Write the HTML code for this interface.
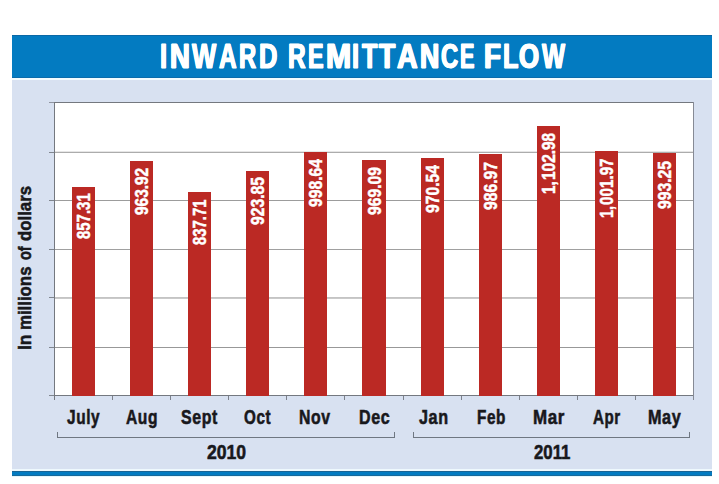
<!DOCTYPE html>
<html>
<head>
<meta charset="utf-8">
<title>Inward Remittance Flow</title>
<style>
html,body{margin:0;padding:0;}
body{width:719px;height:484px;background:#fff;position:relative;overflow:hidden;font-family:"Liberation Sans",sans-serif;font-weight:bold;}
div{position:absolute;}
.t{white-space:nowrap;transform-origin:0 0;}
.h{color:#fff;font-size:37px;line-height:44px;-webkit-text-stroke:0.90px #fff;text-shadow:0.90px 0 0 #fff,-0.90px 0 0 #fff;}
.l{color:#18181c;font-size:21px;line-height:24px;-webkit-text-stroke:0.60px #18181c;}
.v{color:#fff;font-size:19px;line-height:20px;-webkit-text-stroke:0.50px #fff;}
.b{background:#bb2924;}
</style>
</head>
<body>
<div style="left:12px;top:35px;width:700px;height:43px;background:#037bc1;"></div>
<div style="left:12px;top:35px;width:700px;height:1px;background:#0a68a6;"></div>
<div style="left:12px;top:78px;width:700px;height:2px;background:#f2fcff;"></div>
<div style="left:12px;top:80px;width:700px;height:389px;background:#d8e1f1;"></div>
<div style="left:12px;top:469px;width:700px;height:2px;background:#eef8fd;"></div>
<div style="left:12px;top:471px;width:700px;height:5px;background:#037bc1;"></div>
<div style="left:12px;top:471px;width:700px;height:1px;background:#1a6494;"></div>
<div style="left:12px;top:475px;width:700px;height:1px;background:#186a9c;"></div>
<div style="left:12px;top:476px;width:700px;height:1px;background:#e4f6fc;"></div>
<div style="left:12px;top:77px;width:700px;height:1px;background:#0a6cab;"></div>
<div class="t h" style="left:159.91px;top:36.02px;transform:scale(0.6875,0.9393);">I</div>
<div class="t h" style="left:170.36px;top:36.02px;transform:scale(0.7417,0.9393);">N</div>
<div class="t h" style="left:192.39px;top:36.02px;transform:scale(0.6919,0.9393);">W</div>
<div class="t h" style="left:218.90px;top:36.02px;transform:scale(0.6593,0.9393);">A</div>
<div class="t h" style="left:238.86px;top:36.02px;transform:scale(0.6423,0.9393);">R</div>
<div class="t h" style="left:258.81px;top:36.02px;transform:scale(0.6880,0.9393);">D</div>
<div class="t h" style="left:288.24px;top:36.02px;transform:scale(0.6615,0.9393);">R</div>
<div class="t h" style="left:308.27px;top:36.02px;transform:scale(0.6304,0.9393);">E</div>
<div class="t h" style="left:325.89px;top:36.02px;transform:scale(0.8143,0.9393);">M</div>
<div class="t h" style="left:352.21px;top:36.02px;transform:scale(0.6875,0.9393);">I</div>
<div class="t h" style="left:361.78px;top:36.02px;transform:scale(0.6792,0.9393);">T</div>
<div class="t h" style="left:379.12px;top:36.02px;transform:scale(0.7167,0.9393);">T</div>
<div class="t h" style="left:396.70px;top:36.02px;transform:scale(0.7704,0.9393);">A</div>
<div class="t h" style="left:420.38px;top:36.02px;transform:scale(0.7208,0.9393);">N</div>
<div class="t h" style="left:441.06px;top:36.02px;transform:scale(0.6440,0.9393);">C</div>
<div class="t h" style="left:460.02px;top:36.02px;transform:scale(0.5826,0.9393);">E</div>
<div class="t h" style="left:484.25px;top:36.02px;transform:scale(0.7476,0.9393);">F</div>
<div class="t h" style="left:502.52px;top:36.02px;transform:scale(0.6818,0.9393);">L</div>
<div class="t h" style="left:519.30px;top:36.02px;transform:scale(0.6963,0.9393);">O</div>
<div class="t h" style="left:541.96px;top:36.02px;transform:scale(0.6595,0.9393);">W</div>
<div style="left:55px;top:103px;width:638px;height:292px;background:#fff;"></div>
<div style="left:55px;top:152px;width:638px;height:1px;background:#acacac;"></div>
<div style="left:55px;top:200px;width:638px;height:1px;background:#9c9c9c;"></div>
<div style="left:55px;top:249px;width:638px;height:1px;background:#a0a0a0;"></div>
<div style="left:55px;top:297px;width:638px;height:1px;background:#c4c4c4;"></div>
<div style="left:55px;top:347px;width:638px;height:1px;background:#989898;"></div>
<div style="left:55px;top:151px;width:638px;height:1px;background:#e6e6e6;"></div>
<div style="left:55px;top:298px;width:638px;height:1px;background:#cacaca;"></div>
<div style="left:54px;top:102px;width:640px;height:1px;background:#74787f;"></div>
<div style="left:54px;top:395px;width:640px;height:1px;background:#74787f;"></div>
<div style="left:54px;top:102px;width:1px;height:298px;background:#74787f;"></div>
<div style="left:693px;top:102px;width:1px;height:298px;background:#868a95;"></div>
<div style="left:49px;top:102px;width:5px;height:1px;background:#8f94a0;"></div>
<div style="left:49px;top:152px;width:5px;height:1px;background:#80868f;"></div>
<div style="left:49px;top:200px;width:5px;height:1px;background:#80868f;"></div>
<div style="left:49px;top:249px;width:5px;height:1px;background:#80868f;"></div>
<div style="left:49px;top:297px;width:5px;height:1px;background:#80868f;"></div>
<div style="left:49px;top:347px;width:5px;height:1px;background:#80868f;"></div>
<div style="left:49px;top:395px;width:5px;height:1px;background:#80868f;"></div>
<div style="left:112px;top:396px;width:1px;height:4px;background:#7c818c;"></div>
<div style="left:170px;top:396px;width:1px;height:4px;background:#7c818c;"></div>
<div style="left:228px;top:396px;width:1px;height:4px;background:#7c818c;"></div>
<div style="left:286px;top:396px;width:1px;height:4px;background:#7c818c;"></div>
<div style="left:344px;top:396px;width:1px;height:4px;background:#7c818c;"></div>
<div style="left:403px;top:396px;width:1px;height:4px;background:#7c818c;"></div>
<div style="left:461px;top:396px;width:1px;height:4px;background:#7c818c;"></div>
<div style="left:519px;top:396px;width:1px;height:4px;background:#7c818c;"></div>
<div style="left:577px;top:396px;width:1px;height:4px;background:#7c818c;"></div>
<div style="left:635px;top:396px;width:1px;height:4px;background:#7c818c;"></div>
<div class="b" style="left:72px;top:187px;width:23px;height:209px;"></div>
<div class="b" style="left:130px;top:161px;width:23px;height:235px;"></div>
<div class="b" style="left:188px;top:192px;width:23px;height:204px;"></div>
<div class="b" style="left:246px;top:171px;width:23px;height:225px;"></div>
<div class="b" style="left:304px;top:152px;width:23px;height:244px;"></div>
<div class="b" style="left:362px;top:160px;width:24px;height:236px;"></div>
<div class="b" style="left:421px;top:158px;width:23px;height:238px;"></div>
<div class="b" style="left:479px;top:154px;width:23px;height:242px;"></div>
<div class="b" style="left:537px;top:126px;width:23px;height:270px;"></div>
<div class="b" style="left:595px;top:151px;width:23px;height:245px;"></div>
<div class="b" style="left:653px;top:153px;width:23px;height:243px;"></div>
<div class="t v" style="left:74.05px;top:239.30px;transform:rotate(-90deg) scale(0.7862,0.9846);">857.31</div>
<div class="t v" style="left:131.90px;top:215.30px;transform:rotate(-90deg) scale(0.8121,0.9846);">963.92</div>
<div class="t v" style="left:190.05px;top:244.50px;transform:rotate(-90deg) scale(0.7845,0.9846);">837.71</div>
<div class="t v" style="left:248.35px;top:225.30px;transform:rotate(-90deg) scale(0.8259,0.9846);">923.85</div>
<div class="t v" style="left:306.25px;top:207.00px;transform:rotate(-90deg) scale(0.8276,0.9846);">998.64</div>
<div class="t v" style="left:364.65px;top:214.50px;transform:rotate(-90deg) scale(0.8276,0.9846);">969.09</div>
<div class="t v" style="left:423.20px;top:213.10px;transform:rotate(-90deg) scale(0.8259,0.9846);">970.54</div>
<div class="t v" style="left:481.30px;top:209.50px;transform:rotate(-90deg) scale(0.8276,0.9846);">986.97</div>
<div class="t v" style="left:539.35px;top:194.00px;transform:rotate(-90deg) scale(0.8000,0.9846);">1,</div>
<div class="t v" style="left:539.35px;top:179.81px;transform:rotate(-90deg) scale(0.8105,0.9846);">102.98</div>
<div class="t v" style="left:597.20px;top:218.36px;transform:rotate(-90deg) scale(0.7643,0.9846);">1,</div>
<div class="t v" style="left:597.20px;top:205.00px;transform:rotate(-90deg) scale(0.8018,0.9846);">001.97</div>
<div class="t v" style="left:655.35px;top:208.60px;transform:rotate(-90deg) scale(0.8259,0.9846);">993.25</div>
<div class="t l" style="left:66.70px;top:404.50px;transform:scale(0.7333,1.0000);letter-spacing:0.80px;">July</div>
<div class="t l" style="left:126.40px;top:404.50px;transform:scale(0.7415,1.0000);letter-spacing:0.80px;">Aug</div>
<div class="t l" style="left:181.30px;top:404.50px;transform:scale(0.7562,1.0000);letter-spacing:0.80px;">Sept</div>
<div class="t l" style="left:243.78px;top:404.50px;transform:scale(0.7250,1.0000);letter-spacing:0.80px;">Oct</div>
<div class="t l" style="left:299.45px;top:404.50px;transform:scale(0.7525,1.0000);letter-spacing:0.80px;">Nov</div>
<div class="t l" style="left:358.74px;top:404.50px;transform:scale(0.7641,1.0000);letter-spacing:0.80px;">Dec</div>
<div class="t l" style="left:419.00px;top:404.50px;transform:scale(0.7703,1.0000);letter-spacing:0.80px;">Jan</div>
<div class="t l" style="left:476.67px;top:404.50px;transform:scale(0.7297,1.0000);letter-spacing:0.80px;">Feb</div>
<div class="t l" style="left:532.59px;top:404.50px;transform:scale(0.8079,1.0000);letter-spacing:0.80px;">Mar</div>
<div class="t l" style="left:592.80px;top:404.50px;transform:scale(0.7211,1.0000);letter-spacing:0.80px;">Apr</div>
<div class="t l" style="left:647.83px;top:404.50px;transform:scale(0.7714,1.0000);letter-spacing:0.80px;">May</div>
<div style="left:57px;top:437px;width:338px;height:1px;background:#6f7782;"></div>
<div style="left:57px;top:432px;width:1px;height:6px;background:#6f7782;"></div>
<div style="left:394px;top:432px;width:1px;height:6px;background:#6f7782;"></div>
<div style="left:413px;top:437px;width:277px;height:1px;background:#6f7782;"></div>
<div style="left:413px;top:432px;width:1px;height:6px;background:#6f7782;"></div>
<div style="left:689px;top:432px;width:1px;height:6px;background:#6f7782;"></div>
<div class="t l" style="left:206.90px;top:440.11px;transform:scale(0.8370,0.9786);">2010</div>
<div class="t l" style="left:534.20px;top:440.11px;transform:scale(0.8000,0.9786);">2011</div>
<div class="t l" style="left:14.25px;top:241.00px;transform:rotate(-90deg) scale(0.8000,0.9133);">dollars</div>
<div class="t l" style="left:14.25px;top:259.68px;transform:rotate(-90deg) scale(0.6842,0.9133);">of</div>
<div class="t l" style="left:14.25px;top:329.80px;transform:rotate(-90deg) scale(0.8000,0.9133);">millions</div>
<div class="t l" style="left:14.25px;top:350.32px;transform:rotate(-90deg) scale(0.8235,0.9133);">In</div>
</body>
</html>
